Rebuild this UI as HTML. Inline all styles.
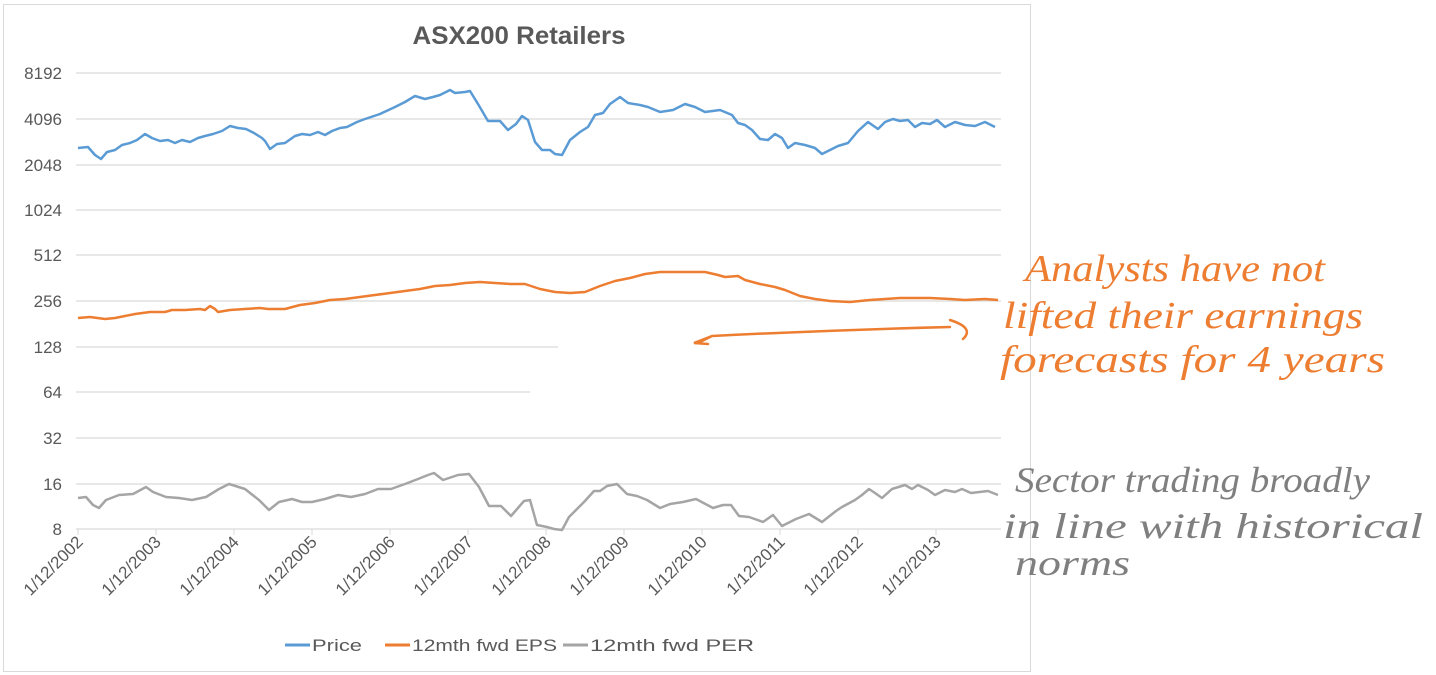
<!DOCTYPE html>
<html><head><meta charset="utf-8"><style>
html,body{margin:0;padding:0;background:#fff;}
svg{display:block;}
text{font-family:"Liberation Sans",sans-serif;}
</style></head><body>
<svg width="1436" height="675" xmlns="http://www.w3.org/2000/svg">
<rect x="0" y="0" width="1436" height="675" fill="#fff"/>
<rect x="3.5" y="4.5" width="1027" height="667" fill="none" stroke="#d9d9d9" stroke-width="1"/>
<text x="519" y="44" text-anchor="middle" font-size="25" font-weight="bold" fill="#595959" textLength="213" lengthAdjust="spacingAndGlyphs">ASX200 Retailers</text>
<g stroke="#d9d9d9" stroke-width="1.2">
<line x1="76" y1="73" x2="1001" y2="73"/>
<line x1="76" y1="119" x2="1001" y2="119"/>
<line x1="76" y1="165" x2="1001" y2="165"/>
<line x1="76" y1="210" x2="1001" y2="210"/>
<line x1="76" y1="255" x2="1001" y2="255"/>
<line x1="76" y1="301" x2="1001" y2="301"/>
<line x1="76" y1="347" x2="558" y2="347"/>
<line x1="76" y1="392" x2="530" y2="392"/>
<line x1="76" y1="438" x2="1001" y2="438"/>
<line x1="76" y1="484" x2="1001" y2="484"/>
<line x1="76" y1="529" x2="1001" y2="529"/>
</g>
<g stroke="#d9d9d9" stroke-width="1">
<line x1="78" y1="529" x2="78" y2="535"/><line x1="156" y1="529" x2="156" y2="535"/><line x1="234" y1="529" x2="234" y2="535"/><line x1="312" y1="529" x2="312" y2="535"/><line x1="390" y1="529" x2="390" y2="535"/><line x1="468" y1="529" x2="468" y2="535"/><line x1="546" y1="529" x2="546" y2="535"/><line x1="624" y1="529" x2="624" y2="535"/><line x1="702" y1="529" x2="702" y2="535"/><line x1="780" y1="529" x2="780" y2="535"/><line x1="858" y1="529" x2="858" y2="535"/><line x1="936" y1="529" x2="936" y2="535"/>
</g>
<g font-size="17" fill="#595959" text-anchor="end">
<text x="62" y="79">8192</text><text x="62" y="125">4096</text><text x="62" y="171">2048</text><text x="62" y="216">1024</text><text x="62" y="261">512</text><text x="62" y="307">256</text><text x="62" y="353">128</text><text x="62" y="398">64</text><text x="62" y="444">32</text><text x="62" y="490">16</text><text x="62" y="535">8</text>
</g>
<g font-size="17" fill="#595959" text-anchor="end">
<text transform="translate(84,543) rotate(-45)">1/12/2002</text>
<text transform="translate(162,543) rotate(-45)">1/12/2003</text>
<text transform="translate(240,543) rotate(-45)">1/12/2004</text>
<text transform="translate(318,543) rotate(-45)">1/12/2005</text>
<text transform="translate(396,543) rotate(-45)">1/12/2006</text>
<text transform="translate(474,543) rotate(-45)">1/12/2007</text>
<text transform="translate(552,543) rotate(-45)">1/12/2008</text>
<text transform="translate(630,543) rotate(-45)">1/12/2009</text>
<text transform="translate(708,543) rotate(-45)">1/12/2010</text>
<text transform="translate(786,543) rotate(-45)">1/12/2011</text>
<text transform="translate(864,543) rotate(-45)">1/12/2012</text>
<text transform="translate(942,543) rotate(-45)">1/12/2013</text>
</g>
<polyline fill="none" stroke="#5b9bd5" stroke-width="2.5" stroke-linejoin="round" points="78,148 88,147 95,155 101,159 107,152 115,150 122,145 130,143 137,140 145,134 152,138 160,141 168,140 175,143 182,140 190,142 198,138 205,136 213,134 222,131 230,126 238,128 246,129 254,133 262,138 265,141 270,149 277,144 285,143 295,136 302,134 310,135 318,132 325,135 332,131 340,128 347,127 357,122 365,119 380,114 395,107 405,102 415,96 425,99 433,97 440,95 450,90 455,93 465,92 470,91 478,104 488,121 500,121 508,130 516,124 522,116 528,120 535,142 542,150 550,150 555,154 562,155 570,140 580,132 588,127 595,115 603,113 610,104 620,97 628,103 640,105 648,107 660,112 673,110 685,104 695,107 705,112 720,110 732,115 738,123 745,125 752,130 760,139 768,140 775,134 782,138 788,148 795,143 805,145 815,148 822,154 830,150 838,146 848,143 858,131 868,122 878,129 885,122 893,119 900,121 908,120 915,127 922,123 930,124 937,120 945,127 955,122 965,125 975,126 985,122 995,127"/>
<polyline fill="none" stroke="#ed7d31" stroke-width="2.5" stroke-linejoin="round" points="78,318 90,317 105,319 115,318 125,316 135,314 150,312 165,312 172,310 185,310 200,309 205,310 210,306 215,309 218,312 230,310 245,309 260,308 268,309 285,309 300,305 315,303 330,300 345,299 360,297 375,295 390,293 405,291 420,289 435,286 450,285 465,283 480,282 495,283 510,284 525,284 540,289 555,292 570,293 585,292 600,286 615,281 630,278 645,274 660,272 675,272 690,272 705,272 718,275 725,277 738,276 745,280 760,284 775,287 785,290 800,296 815,299 830,301 850,302 870,300 885,299 900,298 930,298 950,299 965,300 985,299 998,300"/>
<polyline fill="none" stroke="#a5a5a5" stroke-width="2.5" stroke-linejoin="round" points="78,498 86,497 93,505 99,508 106,500 119,495 133,494 146,487 153,492 166,497 179,498 192,500 206,497 219,489 229,484 245,489 259,500 269,510 279,502 292,499 302,502 312,502 325,499 338,495 351,497 365,494 378,489 391,489 405,484 418,479 428,475 434,473 443,480 458,475 469,474 479,487 489,506 501,506 511,516 524,501 530,500 537,525 547,527 554,529 562,530 569,517 584,502 594,491 600,491 607,486 617,484 627,494 637,496 647,500 660,508 670,504 683,502 696,499 713,508 723,505 731,505 739,516 749,517 763,522 773,515 782,526 796,519 809,514 822,522 836,511 842,507 855,500 862,495 869,489 875,493 882,498 892,489 905,485 912,489 918,485 928,490 935,495 945,490 955,492 962,489 971,493 988,491 998,495"/>
<g font-size="17" fill="#595959">
<line x1="285" y1="645" x2="310" y2="645" stroke="#5b9bd5" stroke-width="3"/><text x="312" y="651" textLength="50" lengthAdjust="spacingAndGlyphs">Price</text>
<line x1="385" y1="645" x2="410" y2="645" stroke="#ed7d31" stroke-width="3"/><text x="412" y="651" textLength="145" lengthAdjust="spacingAndGlyphs">12mth fwd EPS</text>
<line x1="563" y1="645" x2="588" y2="645" stroke="#a5a5a5" stroke-width="3"/><text x="590" y="651" textLength="164" lengthAdjust="spacingAndGlyphs">12mth fwd PER</text>
</g>
<path d="M700,342 L712,336 L694,343 L708,344 M712,336 Q830,330 950,327 M950,320 Q975,328 963,339" fill="none" stroke="#ed7d31" stroke-width="2.5" stroke-linecap="round"/>
<g fill="#ed7d31" font-size="38" font-style="italic">
<text x="1025" y="281" textLength="300" lengthAdjust="spacingAndGlyphs" style="font-family:'Liberation Serif',serif">Analysts have not</text>
<text x="1003" y="328" textLength="360" lengthAdjust="spacingAndGlyphs" style="font-family:'Liberation Serif',serif">lifted their earnings</text>
<text x="1000" y="372" textLength="385" lengthAdjust="spacingAndGlyphs" style="font-family:'Liberation Serif',serif">forecasts for 4 years</text>
</g>
<g fill="#7f7f7f" font-size="36" font-style="italic">
<text x="1015" y="492" textLength="355" lengthAdjust="spacingAndGlyphs" style="font-family:'Liberation Serif',serif">Sector trading broadly</text>
<text x="1003" y="538" textLength="420" lengthAdjust="spacingAndGlyphs" style="font-family:'Liberation Serif',serif">in line with historical</text>
<text x="1015" y="575" textLength="115" lengthAdjust="spacingAndGlyphs" style="font-family:'Liberation Serif',serif">norms</text>
</g>
</svg>
</body></html>
